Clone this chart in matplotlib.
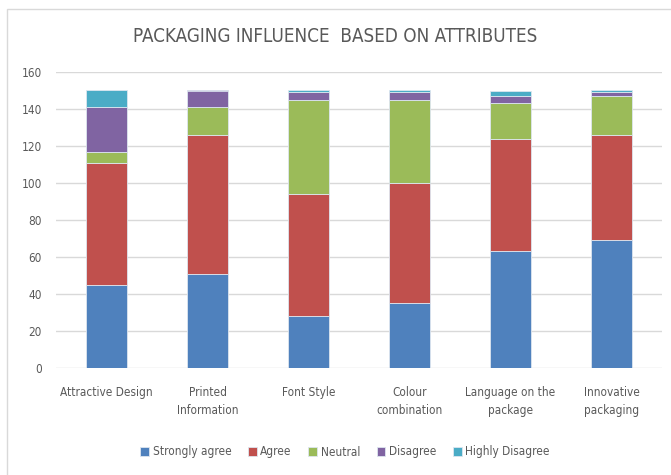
import matplotlib
matplotlib.use('Agg')
from matplotlib import pyplot as plt
from matplotlib.patches import Rectangle
import numpy as np

# values
attributes = ['Attractive Design', 'Printed\nInformation', 'Font Style',
              'Colour\ncombination', 'Language on the\npackage', 'Innovative\npackaging']
strongly_agree = [45, 51, 28, 35, 63, 69]
agree = [66, 75, 66, 65, 61, 57]
neutral = [6, 15, 51, 45, 19, 21]
disagree = [24, 9, 4, 4, 4, 2]
highly_disagree = [9, 0, 1, 1, 3, 1]

series = [('Strongly agree', strongly_agree, '#4F81BD'),
          ('Agree', agree, '#C0504D'),
          ('Neutral', neutral, '#9BBB59'),
          ('Disagree', disagree, '#8064A2'),
          ('Highly Disagree', highly_disagree, '#4BACC6')]

plt.rcParams['font.family'] = ['DejaVu Sans']
plt.rcParams['font.stretch'] = 'condensed'

fig = plt.figure(figsize=(6.71, 4.75), dpi=100)
# light chart-area border like the excel export
fig.patches.append(Rectangle((7 / 671, -0.1), 1.2, 1 - 9 / 475 + 0.1,
                             transform=fig.transFigure, fill=False,
                             edgecolor='#D9D9D9', linewidth=1))

ax = fig.add_axes([56 / 671, 1 - 368 / 475, 606 / 671, 296 / 475])
x = np.arange(len(attributes))
bottom = np.zeros(len(attributes))
for name, vals, col in series:
    ax.bar(x, vals, 0.4, bottom=bottom, color=col, label=name,
           edgecolor='#dde6f0', linewidth=0.6, zorder=3)
    bottom += np.array(vals)

ax.set_xlim(-0.5, 5.5)
ax.set_ylim(0, 160)
ax.set_yticks(range(0, 161, 20))
ax.yaxis.grid(True, color='#D9D9D9', linewidth=1, zorder=0)
for s in ax.spines.values():
    s.set_visible(False)
ax.tick_params(axis='both', length=0, colors='#595959', labelsize=8.5)
ax.tick_params(axis='y', pad=10)
ax.tick_params(axis='x', pad=13)
ax.set_xticks(x)
ax.set_xticklabels(attributes, color='#595959', linespacing=1.5)

fig.text(0.5, 1 - 37 / 475, 'PACKAGING INFLUENCE  BASED ON ATTRIBUTES',
         ha='center', va='center', fontsize=13.5, color='#595959')

fig.legend(loc='center', bbox_to_anchor=(345 / 671, 1 - 452 / 475), ncol=5,
           frameon=False, fontsize=8.5, handlelength=0.75, handleheight=0.75,
           handletextpad=0.3, columnspacing=1.4, labelcolor='#595959')

fig.savefig('out.png', dpi=100)
